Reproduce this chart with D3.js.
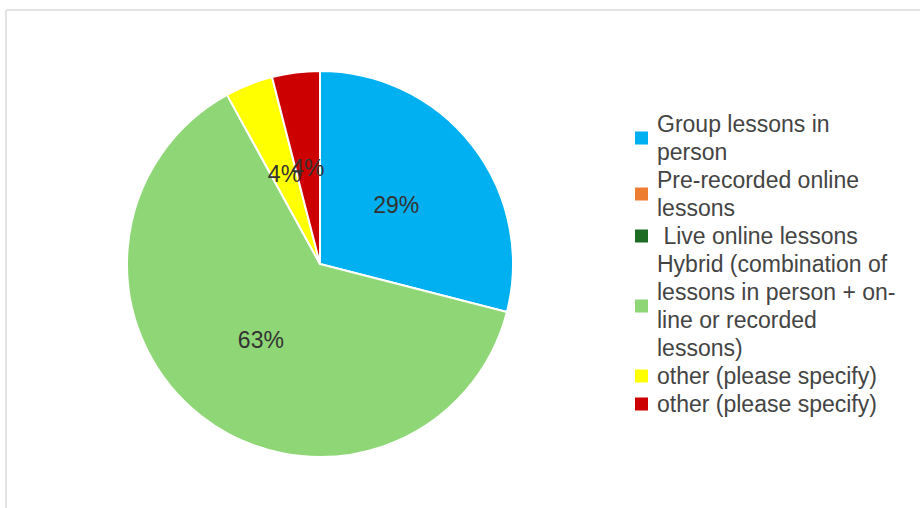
<!DOCTYPE html>
<html>
<head>
<meta charset="utf-8">
<script src="https://cdn.jsdelivr.net/npm/d3@7/dist/d3.min.js"></script>
<style>
  html, body { margin: 0; padding: 0; background: #fff; }
  svg { display: block; font-family: "Liberation Sans", Arial, sans-serif; }
</style>
</head>
<body>
<svg id="chart" width="920" height="508"></svg>
<script>
// Survey answers: preferred lesson format
const categories = [
  "Group lessons in person",
  "Pre-recorded online lessons",
  " Live online lessons",
  "Hybrid (combination of lessons in person + on-line or recorded lessons)",
  "other (please specify)",
  "other (please specify)"
];
const percentages = [29, 0, 0, 63, 4, 4];
const colors = ["#00b0f0", "#ed7d31", "#1e6b24", "#8fd776", "#ffff00", "#cc0000"];

const W = 920, H = 508;
const svg = d3.select("#chart");

// panel frame
svg.append("line").attr("x1", 6).attr("x2", W).attr("y1", 10).attr("y2", 10)
  .attr("stroke", "#e4e4e4").attr("stroke-width", 2);
svg.append("line").attr("x1", 6).attr("x2", 6).attr("y1", 10).attr("y2", H)
  .attr("stroke", "#e4e4e4").attr("stroke-width", 2);

const data = categories.map((c, i) => ({ name: c, value: percentages[i], color: colors[i] }));

const cx = 320, cy = 264, R = 193;
const pie = d3.pie().sort(null).value(d => d.value);
const arcs = pie(data);
const arc = d3.arc().innerRadius(0).outerRadius(R);

const g = svg.append("g").attr("transform", `translate(${cx},${cy})`);
g.selectAll("path.slice")
  .data(arcs.filter(a => a.data.value > 0))
  .join("path")
  .attr("class", "slice")
  .attr("d", arc)
  .attr("fill", d => d.data.color)
  .attr("stroke", "#fff")
  .attr("stroke-width", 2)
  .attr("stroke-linejoin", "round");

const fmt = d3.format(".0%");
g.selectAll("text.pct")
  .data(arcs.filter(a => a.data.value > 0))
  .join("text")
  .attr("class", "pct")
  .attr("transform", d => `translate(${arc.centroid(d)})`)
  .attr("text-anchor", "middle")
  .attr("dominant-baseline", "central")
  .attr("font-size", 23)
  .attr("fill", "#333")
  .text(d => fmt(d.data.value / 100));

// legend with word wrapping (also breaks after hyphens)
const legendX = 635, textX = 657, firstBaseline = 132, lineH = 28, maxW = 242, fontSize = 23;
const measurer = svg.append("text").attr("font-size", fontSize)
  .attr("xml:space", "preserve").style("white-space", "pre");
function textWidth(s) { measurer.text(s); return measurer.node().getComputedTextLength(); }
function wrap(s) {
  const tokens = s.match(/[^\s-]+-?|-|\s+/g) || [];
  const lines = [];
  let line = "";
  tokens.forEach(t => {
    const cand = line + t;
    if (line.trim() !== "" && textWidth(cand.trimEnd()) > maxW) {
      lines.push(line.trimEnd());
      line = t.trim() === "" ? "" : t;
    } else {
      line = cand;
    }
  });
  if (line.trim() !== "") lines.push(line.trimEnd());
  return lines;
}

const legend = svg.append("g").attr("class", "legend");
let baseline = firstBaseline;
data.forEach(d => {
  const lines = wrap(d.name);
  const baselines = lines.map((_, k) => baseline + k * lineH);
  const mid = d3.mean(baselines);
  legend.append("rect")
    .attr("x", legendX).attr("y", mid - 8 - 6.5)
    .attr("width", 13).attr("height", 13)
    .attr("fill", d.color);
  const t = legend.append("text")
    .attr("font-size", fontSize).attr("fill", "#444")
    .attr("xml:space", "preserve").style("white-space", "pre");
  lines.forEach((ln, k) => {
    t.append("tspan").attr("x", textX).attr("y", baselines[k]).text(ln);
  });
  baseline += lines.length * lineH;
});
measurer.remove();
</script>
</body>
</html>
